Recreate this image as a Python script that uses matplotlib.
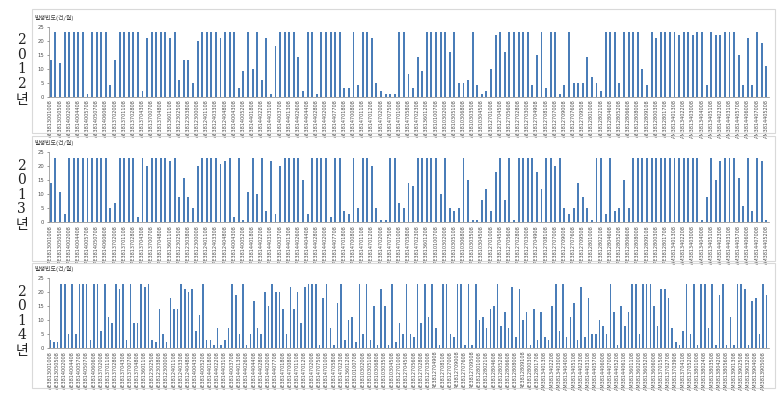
import numpy as np
import matplotlib.pyplot as plt
from matplotlib.patches import Rectangle

# monthly occurrence frequency per station
vals_2012 = [13, 23, 12, 23, 23, 23, 23, 23, 1, 23, 23, 23, 23, 4, 13, 23, 23, 23, 23, 23,
             2, 21, 23, 23, 23, 23, 21, 23, 6, 13, 13, 5, 20, 23, 23, 23, 23, 21, 23, 23,
             23, 3, 9, 23, 10, 23,
             6, 21, 1, 18, 23, 23, 23, 23, 14, 2, 23, 23, 1, 23, 23, 23, 23, 23, 3, 3,
             23, 4, 23, 23, 21, 5, 2, 1, 1, 1, 23, 23, 8, 3, 14, 9, 23, 23, 23, 23,
             23, 16, 23, 5, 5, 6, 23, 4, 1, 2, 10, 22, 23, 16, 23,
             23, 23, 23, 23, 4, 15, 23, 3, 23, 23, 1, 4, 23, 5, 5, 5, 14, 7, 5, 2,
             23, 23, 23, 5, 23, 23, 23, 23, 10, 4, 23, 21, 23, 23, 23, 23, 22, 23, 23, 22,
             23, 23, 4, 23, 22, 22, 23, 23, 23, 15, 4, 21, 4, 23, 19, 11]

vals_2013 = [14, 23, 11, 3, 23, 23, 23, 23, 23, 23, 23, 23, 23, 5, 7, 23, 23, 23, 23, 2,
             23, 20, 23, 23, 23, 23, 22, 23, 9, 16, 9, 5, 20, 23, 23, 23, 23, 21, 22, 23,
             2, 23, 1, 11, 23, 10,
             23, 4, 22, 3, 20, 23, 23, 23, 23, 15, 3, 23, 23, 23, 23, 2, 23, 23, 4, 3,
             23, 5, 23, 23, 20, 5, 1, 1, 23, 23, 7, 5, 14, 13, 23, 23, 23, 23, 23, 10,
             23, 5, 4, 5, 23, 15, 1, 1, 8, 12, 4, 18, 23, 8, 23,
             1, 23, 23, 23, 23, 18, 12, 23, 23, 20, 23, 5, 3, 5, 14, 9, 5, 1, 23, 23,
             3, 23, 4, 5, 15, 5, 23, 23, 23, 23, 23, 23, 23, 23, 23, 23, 23, 23, 23, 23,
             23, 1, 9, 23, 15, 22, 23, 23, 23, 16, 6, 23, 4, 23, 22, 1]

vals_2014 = [3, 2, 2, 23, 23, 5, 23, 5, 23, 23, 23, 3, 23, 23, 6, 23, 11, 9, 23, 21,
             23, 3, 23, 9, 9, 23, 22, 23, 3, 2, 14, 5, 2, 18, 14, 14, 23, 21, 20, 21,
             6, 12, 23, 3, 3, 1, 7, 1, 3, 7, 23, 19, 5, 23, 1,
             5, 17, 7, 5, 20, 15, 23, 20, 20, 14, 5, 22, 14, 20, 9, 22, 23, 23, 23, 1,
             18, 23, 7, 1, 16, 23, 3, 10, 11, 2, 23, 5, 23, 3, 15, 1, 21, 15, 1, 23,
             2, 9, 5, 23, 5, 4, 23, 9, 23, 11, 23, 7, 1, 23, 23, 5, 4, 23, 23, 1,
             23, 1, 23, 10, 11, 7, 14, 15, 23, 8, 13, 7,
             22, 4, 21, 10, 13, 1, 14, 3, 13, 4, 3, 15, 23, 6, 23, 4, 11, 16, 3, 22,
             4, 18, 5, 5, 10, 8, 5, 23, 13, 1, 15, 8, 13, 23, 23, 5, 23, 23, 23, 15,
             8, 21, 21, 18, 7, 2, 1, 6, 23, 5, 23, 1, 23, 23, 7, 23, 1, 19, 23, 1,
             11, 1, 23, 23, 21, 1, 17, 18, 5, 23, 19]

# station codes on the x axis (too small to read exactly)
codes = ["AE3813001008", "AE3813050508", "AE3814002008", "AE3814004408", "AE3814005708",
         "AE3814050708", "AE3814060608", "AE3813702008", "AE3813701108", "AE3813702808",
         "AE3813704308", "AE3813700708", "AE3813704808", "AE3813601108", "AE3812302508",
         "AE3812303808", "AE3812300008", "AE3812401108", "AE3812403308", "AE3812404808",
         "AE3814004308", "AE3814005208", "AE3814401808", "AE3814402208", "AE3814403108",
         "AE3814003708", "AE3814401308", "AE3814402608", "AE3814404408", "AE3814402808",
         "AE3814402008", "AE3814407708", "AE3814701808", "AE3814700808", "AE3814701108",
         "AE3814701208", "AE3814702008", "AE3814707508", "AE3814701008", "AE3814705808",
         "AE3814702308", "AE3813601208", "AE3810100708", "AE3810302008", "AE3810305108",
         "AE3810306808", "AE3810303508", "AE3810304508", "AE3812701008", "AE3812704508",
         "AE3812705608", "AE3812702808", "AE3812703008", "AE3812704908", "AE3812708108",
         "AE3812707008", "AE3812709008", "AE3812707608", "AE3812709508", "AE3812801008",
         "AE3812802108", "AE3812804608", "AE3812805208", "AE3812806608", "AE3812808008",
         "AE3812809108", "AE3812800308", "AE3812801708", "AM3813401308", "AM3813402208",
         "AM3813403008", "AM3813404008", "AM3813405108", "AM3814402308", "AM3814403108",
         "AM3814405708", "AM3814406008", "AM3814407008", "AM3814405208", "AM3814406108",
         "AM3813601108", "AM3813602008", "AM3813605208", "AM3813606008", "AM3813701508",
         "AM3813702708", "AM3813703908", "AM3813704108", "AM3813705208", "AM3813801008",
         "AM3813802408", "AM3813803508", "AM3813804208", "AM3813805608", "AM3813901308",
         "AM3813902508", "AM3813903208", "AM3813904008", "AM3813905008"]

years = ["2012", "2013", "2014"]
ytitle = "발생빈도(건/월)"

W, H = 782, 403
fig = plt.figure(figsize=(W / 100, H / 100), dpi=100)

bar_col = "#4a7db8"
grey = "#4d4d4d"

# pixel layout: (frame top, frame bottom, axis top, axis bottom)
panels = [(9, 133, 26.7, 96.7), (136, 261, 152.3, 222.3), (263, 388, 278.3, 348.0)]
all_vals = [vals_2012, vals_2013, vals_2014]

for k in range(3):
    ftop, fbot, atop, abot = panels[k]
    vals = all_vals[k]
    n = len(vals)

    # light frame round each chart
    fig.patches.append(Rectangle((32 / W, 1 - fbot / H), (775 - 32) / W, (fbot - ftop) / H,
                                 transform=fig.transFigure, fill=False,
                                 edgecolor="#d9d9d9", linewidth=0.8))

    ax = fig.add_axes([48.5 / W, 1 - abot / H, 720 / W, (abot - atop) / H])
    x = np.arange(n)
    ax.bar(x, vals, width=0.42, color=bar_col)
    ax.set_xlim(-0.5, n - 0.5)
    ax.set_ylim(0, 25)
    ax.set_yticks([0, 5, 10, 15, 20, 25])
    ax.tick_params(axis="y", labelsize=3.8, colors=grey, length=1.5, width=0.4, pad=1.5)

    lab_pos = x[::2]
    ax.set_xticks(lab_pos)
    ax.set_xticklabels(codes[:len(lab_pos)], rotation=90, fontsize=3.5, color=grey)
    ax.tick_params(axis="x", length=0, pad=2)

    for s in ["top", "right"]:
        ax.spines[s].set_visible(False)
    ax.spines["left"].set_color("#868686")
    ax.spines["bottom"].set_color("#868686")
    ax.spines["left"].set_linewidth(0.5)
    ax.spines["bottom"].set_linewidth(0.5)
    ax.patch.set_alpha(0)

    # small title above the axis
    fig.text(34 / W, 1 - (atop - 9) / H, ytitle, fontsize=4.3, color="#404040",
             family=["Noto Sans CJK KR", "DejaVu Sans"], va="center", ha="left")

    # year written downwards at the left
    y0 = atop + 13.5
    for i, ch in enumerate(years[k]):
        fig.text(21.7 / W, 1 - (y0 + i * 14.5) / H, ch, fontsize=10, color="#222222",
                 family="DejaVu Serif", ha="center", va="center")
    fig.text(21.7 / W, 1 - (y0 + 4 * 14.5 + 1.5) / H, "년", fontsize=10, color="#222222",
             family=["Noto Sans CJK KR", "DejaVu Sans"], ha="center", va="center")

fig.savefig("out.png", dpi=100)
